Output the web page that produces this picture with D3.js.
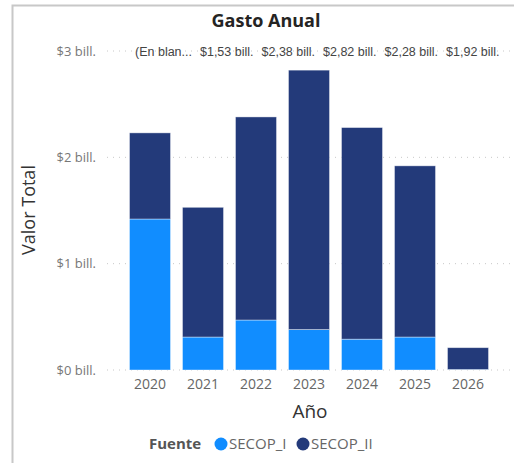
<!DOCTYPE html>
<html>
<head>
<meta charset="utf-8">
<script src="https://cdn.jsdelivr.net/npm/d3@7"></script>
<style>
  body { margin: 0; background: #fff; }
  svg { display: block; }
</style>
</head>
<body>
<div id="chart"></div>
<script>
// data (bill. = billones de pesos)
const years = ["2020", "2021", "2022", "2023", "2024", "2025", "2026"];
const secopI = [1.42, 0.31, 0.47, 0.38, 0.29, 0.31, 0.005];
const secopII = [0.81, 1.22, 1.91, 2.44, 1.99, 1.61, 0.205];
const yTicks = [0, 1, 2, 3];
const topLabels = ["(En blan...", "$1,53 bill.", "$2,38 bill.", "$2,82 bill.", "$2,28 bill.", "$1,92 bill."];
const series = ["SECOP_I", "SECOP_II"];
const colors = ["#118DFF", "#233A7A"];

const W = 514, H = 463;
const font = "'Open Sans', 'Noto Sans', sans-serif";
const svg = d3.select("#chart").append("svg")
    .attr("width", W)
    .attr("height", H);

// visual frame
svg.append("path")
    .attr("d", "M12.5," + H + "V5.5H" + W)
    .attr("fill", "none")
    .attr("stroke", "#c8c8c8")
    .attr("stroke-width", 2);

// title
svg.append("text")
    .attr("x", 266).attr("y", 27)
    .attr("text-anchor", "middle")
    .style("font-family", font)
    .style("font-size", "18px")
    .style("font-weight", "bold")
    .style("fill", "#252423")
    .text("Gasto Anual");

// scales
const x = d3.scaleBand().domain(years).range([123.5, 494.5]).paddingInner(0.226).paddingOuter(0.113);
const y = d3.scaleLinear().domain([0, 3]).range([370, 51]);

// gridlines
svg.append("g").selectAll("line")
    .data(yTicks)
    .enter().append("line")
    .attr("x1", 107).attr("x2", 510)
    .attr("y1", d => y(d)).attr("y2", d => y(d))
    .attr("stroke", "#c8c8c8")
    .attr("stroke-width", 1)
    .attr("stroke-dasharray", "1,5");

// y axis labels
const yAxis = svg.append("g")
    .attr("transform", "translate(96,0)")
    .call(d3.axisLeft(y).tickValues(yTicks).tickSize(0).tickPadding(0)
        .tickFormat(d => "$" + d + " bill."));
yAxis.select(".domain").remove();
yAxis.selectAll("text")
    .style("font-family", font)
    .style("font-size", "13px")
    .style("fill", "#777");

// stacked bars
const rows = years.map((yr, i) => ({ year: yr, SECOP_I: secopI[i], SECOP_II: secopII[i] }));
const stacked = d3.stack().keys(series)(rows);

svg.append("g").selectAll("g")
    .data(stacked)
    .enter().append("g")
    .attr("fill", (d, i) => colors[i])
    .selectAll("rect")
    .data(d => d)
    .enter().append("rect")
    .attr("x", d => x(d.data.year))
    .attr("width", x.bandwidth())
    .attr("y", d => y(d[1]))
    .attr("height", d => y(d[0]) - y(d[1]))
    .attr("stroke", "rgba(255,255,255,0.5)")
    .attr("stroke-width", 0.8);

// x axis labels
const xAxis = svg.append("g")
    .attr("transform", "translate(0,376)")
    .call(d3.axisBottom(x).tickSize(0).tickPadding(3));
xAxis.select(".domain").remove();
xAxis.selectAll("text")
    .style("font-family", font)
    .style("font-size", "14px")
    .style("fill", "#666");

// axis titles
svg.append("text")
    .attr("transform", "translate(35,210) rotate(-90)")
    .attr("text-anchor", "middle")
    .style("font-family", font)
    .style("font-size", "18px")
    .style("fill", "#333")
    .text("Valor Total");

svg.append("text")
    .attr("x", 310).attr("y", 418)
    .attr("text-anchor", "middle")
    .style("font-family", font)
    .style("font-size", "19px")
    .style("fill", "#333")
    .text("Año");

// labels along the top line, anchored to their year, pushed right so they don't overlap
const lbl = svg.append("g").selectAll("text")
    .data(topLabels)
    .enter().append("text")
    .attr("y", y(3) + 4.5)
    .style("font-family", "'Liberation Sans', Arial, sans-serif")
    .style("font-size", "12.5px")
    .style("fill", "#444")
    .text(d => d);

let prevRight = 127;
lbl.each(function(d, i) {
    const w = this.getComputedTextLength();
    const want = x(years[i]) + x.bandwidth() / 2 - w / 2;
    const left = Math.max(want, prevRight + 8);
    d3.select(this).attr("x", left);
    prevRight = left + w;
});

// legend
const leg = svg.append("g").attr("transform", "translate(0,444)");
leg.append("text")
    .attr("x", 149).attr("y", 5)
    .style("font-family", font)
    .style("font-size", "15px")
    .style("font-weight", "bold")
    .style("fill", "#555")
    .text("Fuente");

const legX = [221, 303];
series.forEach((s, i) => {
    leg.append("circle").attr("cx", legX[i]).attr("cy", 0).attr("r", 6.5).attr("fill", colors[i]);
    leg.append("text")
        .attr("x", legX[i] + 8).attr("y", 5)
        .style("font-family", font)
        .style("font-size", "15px")
        .style("fill", "#666")
        .text(s);
});
</script>
</body>
</html>
